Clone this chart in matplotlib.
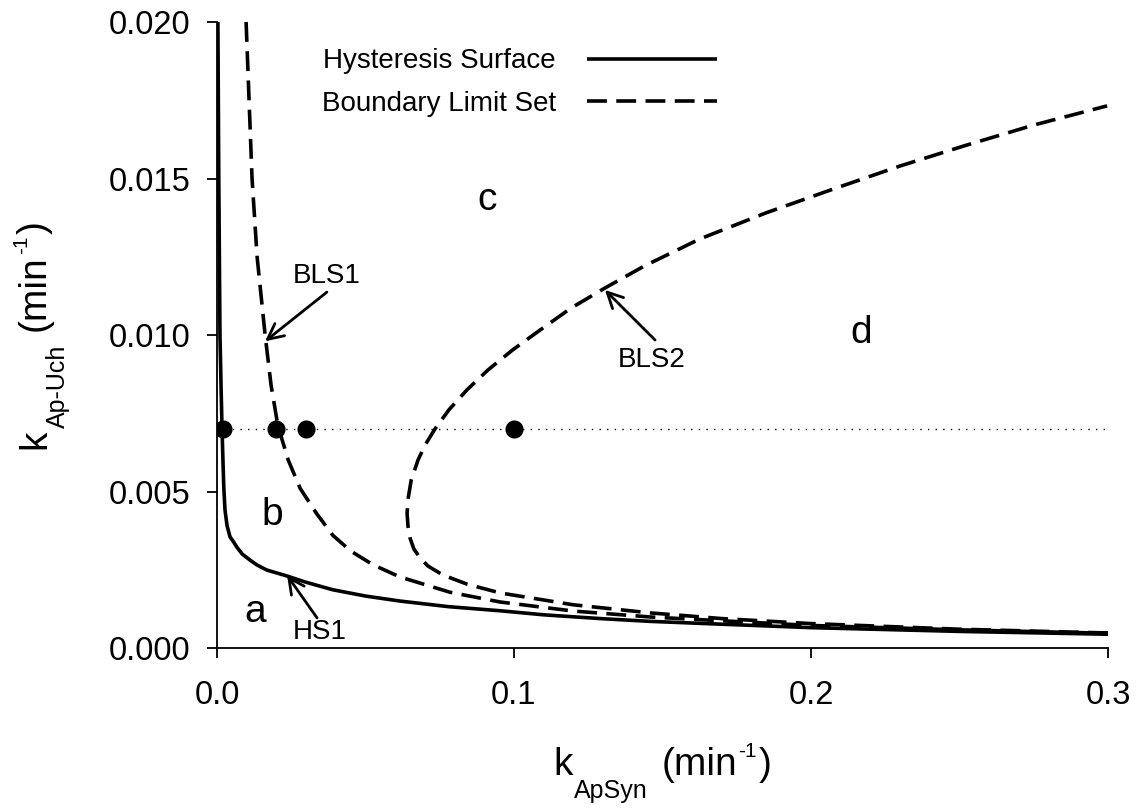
import matplotlib
matplotlib.use("Agg")
import matplotlib.pyplot as plt
from matplotlib.transforms import IdentityTransform

plt.rcParams['font.family'] = ['Liberation Sans', 'DejaVu Sans']

# ---- data ----
hs_x = [0.0003, 0.0006, 0.0010, 0.0014, 0.0017, 0.0020, 0.0023, 0.0027, 0.0034,
        0.0044, 0.0055, 0.0067, 0.0085, 0.0111, 0.0135, 0.0168, 0.0236, 0.030,
        0.039, 0.050, 0.0616, 0.078, 0.0953, 0.11, 0.129, 0.146, 0.17, 0.2,
        0.25, 0.3]
hs_y = [0.020, 0.015, 0.010, 0.0082, 0.007, 0.0060, 0.0051, 0.0044, 0.0039,
        0.00355, 0.0034, 0.00322, 0.0030, 0.00281, 0.00265, 0.00249, 0.0023, 0.0021,
        0.00186, 0.00166, 0.00150, 0.00132, 0.00119, 0.00106, 0.00094, 0.00085, 0.00076, 0.00065,
        0.00053, 0.00044]

bls1_x = [0.0098, 0.0108, 0.0118, 0.0135, 0.0162, 0.0182, 0.0205, 0.024, 0.028,
          0.0335, 0.039, 0.045, 0.0525, 0.0616, 0.0785, 0.0953, 0.12, 0.146,
          0.2, 0.25, 0.3]
bls1_y = [0.020, 0.0175, 0.015, 0.0125, 0.010, 0.0084, 0.0071, 0.0060, 0.0051,
          0.0043, 0.0036, 0.0031, 0.00266, 0.00227, 0.00178, 0.00147, 0.00118, 0.00099,
          0.00072, 0.00058, 0.00047]

bls2_x = [0.3, 0.25, 0.2, 0.17, 0.146, 0.12, 0.0953, 0.0842, 0.0761, 0.0710,
          0.0684, 0.0663, 0.0650, 0.0643, 0.0640, 0.0644, 0.0654, 0.0677, 0.0701,
          0.0734, 0.0781, 0.0842, 0.0912, 0.0995, 0.1088, 0.1192, 0.1306, 0.1438,
          0.1626, 0.1848, 0.2074, 0.23, 0.2525, 0.2751, 0.2997]
bls2_y = [0.00048, 0.0006, 0.00078, 0.00094, 0.00112, 0.00138, 0.00176, 0.00204, 0.00233,
          0.00262, 0.00288, 0.00316, 0.00351, 0.0039, 0.00431, 0.0048, 0.00537, 0.00601,
          0.00649, 0.0070, 0.00761, 0.00825, 0.00888, 0.00952, 0.01016, 0.01086, 0.0115,
          0.0122, 0.01307, 0.0139, 0.01466, 0.0154, 0.01607, 0.01671, 0.01732]

dot_x = [0.002, 0.02, 0.03, 0.1]
dot_y = [0.007, 0.007, 0.007, 0.007]
line_level = 0.007

xticks = [0.0, 0.1, 0.2, 0.3]
xtick_labels = ['0.0', '0.1', '0.2', '0.3']
yticks = [0.000, 0.005, 0.010, 0.015, 0.020]
ytick_labels = ['0.000', '0.005', '0.010', '0.015', '0.020']

# axis label pieces: (text, fontsize, baseline offset px, gap before px)
xlabel_pieces = [('k', 28, 0, 0), ('ApSyn', 18, -23, 1), ('(min', 28, 0, 14),
                 ('-1', 15, 18, 1), (')', 28, 0, 2)]
ylabel_pieces = [('k', 28, 0, 0), ('Ap-Uch', 18, -20, 1), ('(min', 28, 0, 14),
                 ('-1', 15, 18, 1), (')', 28, 0, 2)]

W, H = 1140, 810
fig = plt.figure(figsize=(W / 100, H / 100), dpi=100)
ax = fig.add_axes([217 / W, 1 - 648 / H, (1108 - 217) / W, (648 - 22) / H])

ax.plot([0, 0.3], [line_level, line_level], color='black', lw=1, dashes=(1, 4.5))
l1, = ax.plot(hs_x, hs_y, color='black', lw=2.6, solid_capstyle='butt',
              solid_joinstyle='round', label='Hysteresis Surface')
l2, = ax.plot(bls1_x, bls1_y, color='black', lw=2.6, dashes=(5.5, 2.6),
              label='Boundary Limit Set')
ax.plot(bls2_x, bls2_y, color='black', lw=2.6, dashes=(5.5, 2.6))
ax.plot(dot_x, dot_y, 'o', color='black', ms=12, zorder=5)

ax.set_xlim(0, 0.3)
ax.set_ylim(0, 0.02)
ax.set_xticks(xticks)
ax.set_xticklabels(xtick_labels)
ax.set_yticks(yticks)
ax.set_yticklabels(ytick_labels)
for s in ['top', 'right']:
    ax.spines[s].set_visible(False)
for s in ['left', 'bottom']:
    ax.spines[s].set_linewidth(1.3)
ax.tick_params(axis='both', direction='out', length=7, width=1.3, labelsize=23.5)
ax.tick_params(axis='x', pad=16)
ax.tick_params(axis='y', pad=12)

leg = ax.legend(handles=[l1, l2], loc='upper left', bbox_to_anchor=(0.1178, 0.9577),
                frameon=False, markerfirst=False, borderpad=0, borderaxespad=0,
                handlelength=4.7, handletextpad=1.1, labelspacing=0.6, fontsize=20)

# region letters
ax.text(0.0128, 0.00115, 'a', fontsize=28, ha='center', va='center')
ax.text(0.0185, 0.00425, 'b', fontsize=28, ha='center', va='center')
ax.text(0.091, 0.0143, 'c', fontsize=28, ha='center', va='center')
ax.text(0.217, 0.01006, 'd', fontsize=28, ha='center', va='center')

arrow = dict(arrowstyle='->', lw=2, color='black', mutation_scale=28, shrinkA=0, shrinkB=0)
ax.annotate('', xy=(0.0162, 0.0098), xytext=(0.0370, 0.01137), arrowprops=arrow)
ax.text(0.0370, 0.0119, 'BLS1', fontsize=20, ha='center', va='center')
ax.annotate('', xy=(0.1306, 0.01144), xytext=(0.1475, 0.00984), arrowprops=arrow)
ax.text(0.1465, 0.0092, 'BLS2', fontsize=20, ha='center', va='center')
ax.annotate('', xy=(0.0236, 0.00232), xytext=(0.0337, 0.00096), arrowprops=arrow)
ax.text(0.0345, 0.00052, 'HS1', fontsize=20, ha='center', va='center')

# composed axis labels with deep subscripts
renderer = fig.canvas.get_renderer()


def compose(pieces, center, base, vertical):
    widths = []
    for s, fs, off, gap in pieces:
        t = fig.text(0, 0, s, fontsize=fs, transform=IdentityTransform())
        widths.append(t.get_window_extent(renderer).width)
        t.remove()
    total = sum(w + p[3] for w, p in zip(widths, pieces))
    pos = center - total / 2
    for (s, fs, off, gap), w in zip(pieces, widths):
        pos += gap
        if vertical:
            fig.text(base - off, pos, s, fontsize=fs, rotation=90,
                     rotation_mode='anchor', ha='left', va='baseline',
                     transform=IdentityTransform())
        else:
            fig.text(pos, base + off, s, fontsize=fs, ha='left', va='baseline',
                     transform=IdentityTransform())
        pos += w


ax_cx = (217 + 1108) / 2
ax_cy = H - (22 + 648) / 2
compose(xlabel_pieces, ax_cx, H - 775, vertical=False)
compose(ylabel_pieces, ax_cy, 45, vertical=True)

fig.savefig('out.png', dpi=100)
